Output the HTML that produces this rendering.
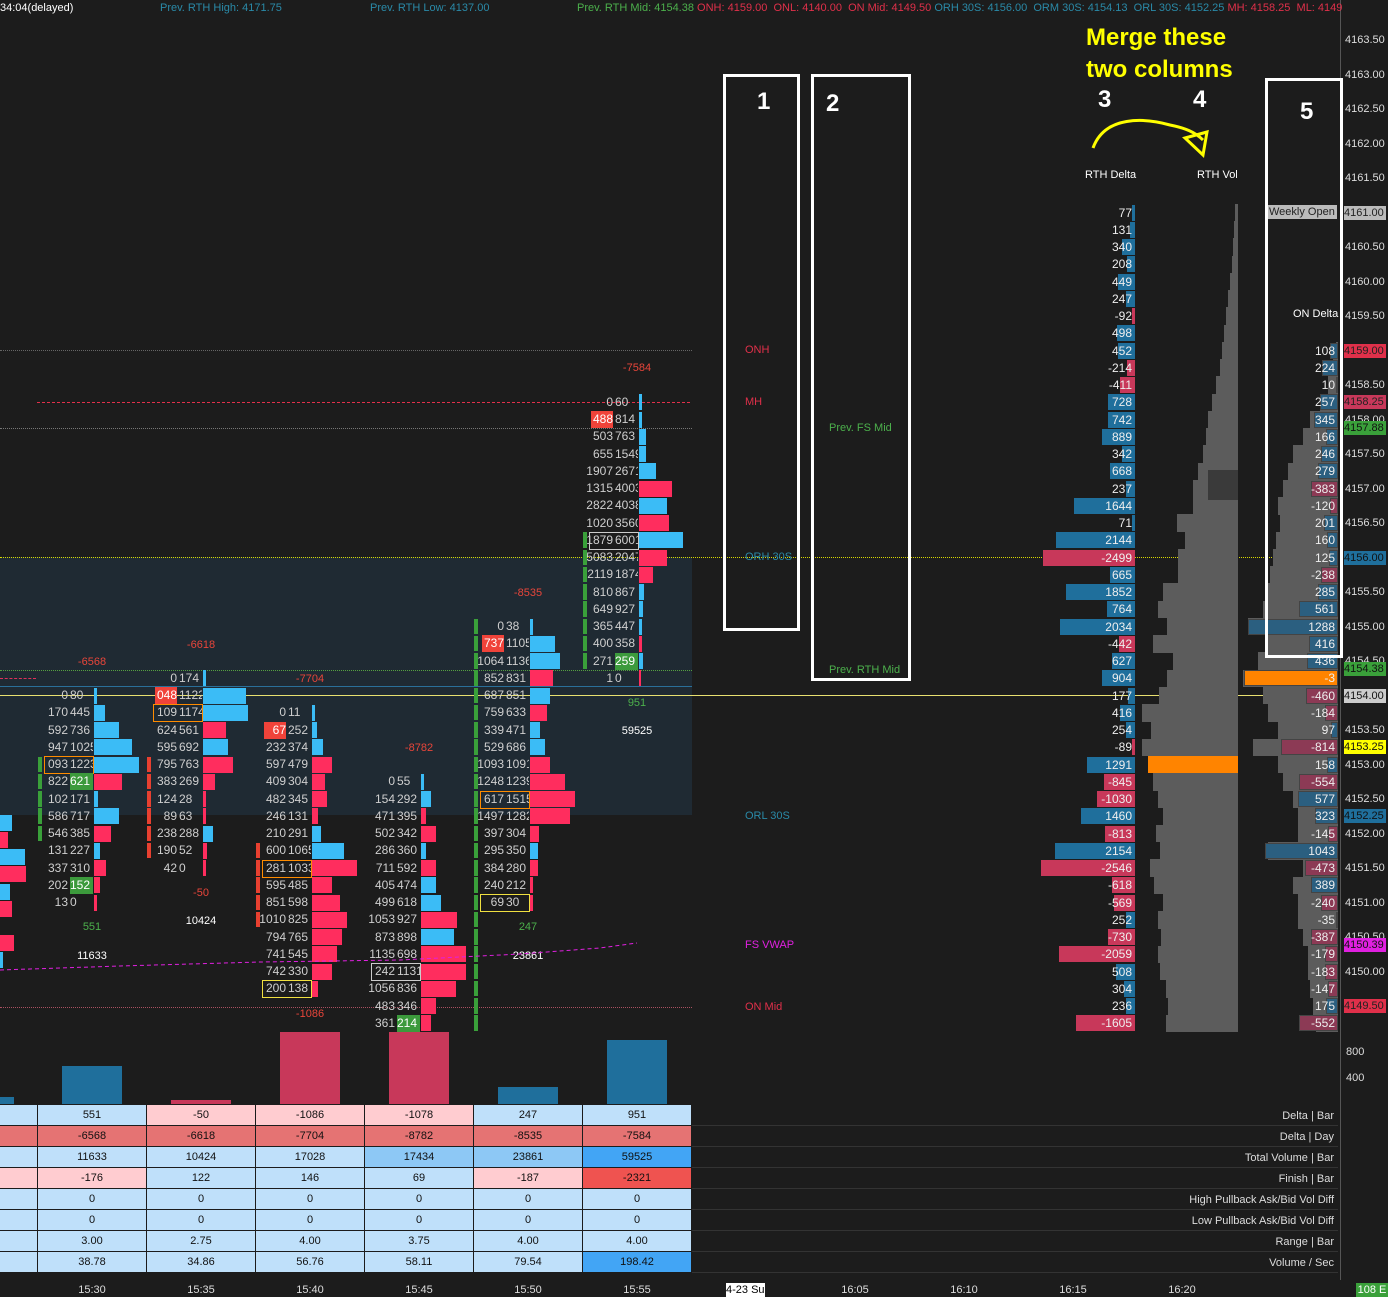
<!DOCTYPE html>
<html><head><meta charset="utf-8"><style>
body{margin:0;width:1388px;height:1296px;background:#1c1c1c;overflow:hidden;font-family:"Liberation Sans",sans-serif;position:relative}
div,span{position:absolute;white-space:nowrap}
.t{font-size:12px;color:#cfcfcf;line-height:17px;height:17px}
.s{font-size:11px;line-height:14px}
</style></head><body>
<div style="left:0;top:557px;width:692px;height:258px;background:#1f2a33"></div>
<div id="root"></div>
<script>
var H='';
function Y(p){return 40+(4163.5-p)*69;}
function add(s){H+=s;}
function box(x,y,w,h,st){add('<div style="left:'+x+'px;top:'+y+'px;width:'+w+'px;height:'+h+'px;'+st+'"></div>');}
function txt(x,y,s,st,cls){add('<div class="'+(cls||'t')+'" style="left:'+x+'px;top:'+y+'px;'+st+'">'+s+'</div>');}
box(0,350,692,0,'border-top:1px dotted #666');
box(37,402,653,0,'border-top:1px dashed #e0304a');
box(0,428,692,0,'border-top:1px dotted #777');
box(0,557,1338,0,'border-top:1px dotted #d8d800');
box(0,670,692,0,'border-top:1px dotted #55a040');
box(0,686,692,0,'border-top:1px solid #2a6f99');
box(0,695,1338,0,'border-top:1px solid #e8e070');
box(0,1007,692,0,'border-top:1px dotted #aa5060');
box(0,678,36,0,'border-top:1px dashed #e0305a');
var B='#3bbcf6',R='#ff2d5e';
var cols=[
[92,4154.00,[[0,80,3,B],[170,445,11,B],[592,736,25,B],[947,1025,38,B],['093',1223,45,B,'o'],[822,621,28,R,'g'],[102,171,4,B],[586,717,25,B],[546,385,17,R],[131,227,6,B],[337,310,12,R],[202,152,6,R,'g'],[13,0,3,R]]],
[201,4154.25,[[0,174,3,B],['048',1122,43,B,'r'],[109,1174,45,B,'o'],[624,561,23,R],[595,692,25,B],[795,763,30,R],[383,269,12,R],[124,28,3,R],[89,63,3,R],[238,288,10,B],[190,52,4,R],[42,0,3,R]]],
[310,4153.75,[[0,11,3,B],[67,252,5,B,'r'],[232,374,11,B],[597,479,20,R],[409,304,13,R],[482,345,15,R],[246,131,6,R],[210,291,9,B],[600,1065,32,B],[281,1033,45,R,'o'],[595,485,20,R],[851,598,28,R],[1010,825,35,R],[794,765,30,R],[741,545,25,R],[742,330,20,R],[200,138,6,R,'y']]],
[419,4152.75,[[0,55,3,B],[154,292,10,B],[471,395,5,R],[502,342,15,R],[286,360,5,B],[711,592,15,R],[405,474,15,B],[499,618,20,B],[1053,927,36,R],[873,898,33,B],[1135,698,45,R],[242,1131,45,R,'w'],[1056,836,35,R],[483,346,15,R],[361,214,10,R,'g']]],
[528,4155.00,[[0,38,3,B],[737,1105,25,B,'r'],[1064,1136,30,B],[852,831,23,R],[687,851,20,B],[759,633,17,R],[339,471,10,B],[529,686,15,B],[1093,1091,20,R],[1248,1239,35,R],[617,1515,45,R,'o'],[1497,1282,40,R],[397,304,9,R],[295,350,8,B],[384,280,8,R],[240,212,3,R],[69,30,3,R,'y']]],
[637,4158.25,[[0,60,3,B],[488,814,3,B,'r'],[503,763,7,B],[655,1549,7,B],[1907,2671,17,B],[1315,4003,33,R],[2822,4038,28,B],[1020,3560,30,R],[1879,6001,44,B,'w'],[5083,2047,28,R],[2119,1874,14,R],[810,867,5,B],[649,927,4,B],[365,447,3,B],[400,358,3,R],[271,259,4,B,'g'],[1,0,2,R]]]
];
cols.forEach(function(c){var x=c[0];c[2].forEach(function(r,i){var p=c[1]-i*0.25;var y=Y(p)-8.5;
 var as='';
 if(r[4]=='r')box(x-46,y,22,17,'background:#f0433a');
 if(r[4]=='g')as='background:#3c9a3c;color:#fff;';
 add('<div class="t" style="left:'+(x-60)+'px;top:'+y+'px;width:36px;text-align:right;'+(r[4]=='r'?'color:#fff;':'')+'">'+r[0]+'</div>');
 add('<div class="t" style="left:'+(x-22)+'px;top:'+y+'px;width:23px;overflow:hidden;'+as+'">'+r[1]+'</div>');
 var bc={o:'#ff8c00',y:'#f0e040',w:'#ccc'}[r[4]];
 if(bc)box(x-48,y,48,16,'border:1px solid '+bc);
 box(x+2,y+0.5,r[2],16,'background:'+r[3]);
});});
// side bars segmented
function seg(x,p0,n,c){for(var i=0;i<n;i++)box(x,Y(p0-i*0.25)-8,4,15.5,'background:'+c);}
seg(38,4153.0,5,'#3aa03a');seg(147,4153.0,6,'#e84030');seg(256,4151.75,5,'#e84030');
seg(474,4155.0,24,'#3aa03a');seg(583,4156.25,8,'#3aa03a');
[[815,12,B],[832,8,R],[849,25,B],[866,26,R],[884,10,B],[901,12,R],[935,14,R],[952,3,B]].forEach(function(b){box(0,b[0],b[1],16,'background:'+b[2]);});
[[92,662,'-6568','#e8453a'],[201,645,'-6618','#e8453a'],[310,679,'-7704','#e8453a'],[419,748,'-8782','#e8453a'],[528,593,'-8535','#e8453a'],[637,368,'-7584','#e8453a'],
 [92,927,'551','#4cb04c'],[201,893,'-50','#e8453a'],[310,1014,'-1086','#e8453a'],[528,927,'247','#4cb04c'],[637,703,'951','#4cb04c'],
 [92,956,'11633','#fff'],[201,921,'10424','#fff'],[528,956,'23861','#fff'],[637,731,'59525','#fff']].forEach(function(l){
 add('<div class="s" style="left:'+(l[0]-30)+'px;top:'+(l[1]-7)+'px;width:60px;text-align:center;color:'+l[3]+'">'+l[2]+'</div>');});
add('<svg style="position:absolute;left:0;top:0" width="692" height="1100"><path d="M0 970 L120 966 L260 962 L400 960 L520 954 L600 948 L637 943" stroke="#e020e0" stroke-dasharray="4,3" fill="none"/></svg>');
[[62,1066,'#1f6f9c'],[171,1100,'#c8385a'],[280,1032,'#c8385a'],[389,1032,'#c8385a'],[498,1087,'#1f6f9c'],[607,1040,'#1f6f9c']].forEach(function(v){box(v[0],v[1],60,1104-v[1],'background:'+v[2]);});
box(0,1097,14,7,'background:#1f6f9c');
var rows=[['551','-50','-1086','-1078','247','951'],['-6568','-6618','-7704','-8782','-8535','-7584'],['11633','10424','17028','17434','23861','59525'],['-176','122','146','69','-187','-2321'],['0','0','0','0','0','0'],['0','0','0','0','0','0'],['3.00','2.75','4.00','3.75','4.00','4.00'],['38.78','34.86','56.76','58.11','79.54','198.42']];
var LB='#bfe0fa',PK='#ffccd0',RD='#e57373';
var bg=[[LB,LB,PK,PK,PK,LB,LB],[RD,RD,RD,RD,RD,RD,RD],[LB,LB,LB,LB,'#8dc8f5','#8dc8f5','#42a5f5'],[PK,PK,LB,LB,LB,PK,'#ef5350'],[LB,LB,LB,LB,LB,LB,LB],[LB,LB,LB,LB,LB,LB,LB],[LB,LB,LB,LB,LB,LB,LB],[LB,LB,LB,LB,LB,LB,'#42a5f5']];
var labels=['Delta | Bar','Delta | Day','Total Volume | Bar','Finish | Bar','High Pullback Ask/Bid Vol Diff','Low Pullback Ask/Bid Vol Diff','Range | Bar','Volume / Sec'];
for(var i=0;i<8;i++){var y=1105+i*21;
 box(0,y,37,20,'background:'+bg[i][0]);
 for(var j=0;j<6;j++){add('<div class="s" style="left:'+(38+j*109)+'px;width:108px;height:20px;line-height:20px;top:'+y+'px;background:'+bg[i][j+1]+';text-align:center;color:#111">'+rows[i][j]+'</div>');}
 box(692,y+20,646,1,'background:#333');
 add('<div class="s" style="left:900px;top:'+(y+4)+'px;width:434px;text-align:right;color:#ddd">'+labels[i]+'</div>');}
[['15:30',92],['15:35',201],['15:40',310],['15:45',419],['15:50',528],['15:55',637],['16:05',855],['16:10',964],['16:15',1073],['16:20',1182]].forEach(function(t){add('<div class="s" style="left:'+(t[1]-25)+'px;top:1283px;width:50px;text-align:center;color:#ddd">'+t[0]+'</div>');});
add('<div class="s" style="left:726px;top:1283px;width:39px;background:#fff;color:#000">4-23 Su</div>');
add('<div class="s" style="left:1356px;top:1283px;width:32px;background:#3aa03a;color:#fff;text-align:center">108 E</div>');
var rv=[3,4,5,6,8,10,12,14,16,18,22,26,30,32,35,40,45,45,61,53,60,60,75,80,71,85,65,71,79,96,87,96,90,85,80,75,82,78,88,84,75,80,77,80,78,72,70,72];
rv.forEach(function(w,i){var y=Y(4161-i*0.25)-8.6;box(1238-w,y,w,17.4,'background:'+(i==32?'#ff8400':'#5c5c5c'));});
box(1208,470,30,30,'background:#3a3a3a');
var rd=[77,131,340,208,449,247,-92,498,452,-214,-411,728,742,889,342,668,237,1644,71,2144,-2499,665,1852,764,2034,-442,627,904,177,416,254,-89,1291,-845,-1030,1460,-813,2154,-2546,-618,-569,252,-730,-2059,508,304,236,-1605];
rd.forEach(function(v,i){var y=Y(4161-i*0.25)-8;var w=Math.max(2,Math.abs(v)*0.037);
 box(1135-w,y,w,16,'background:'+(v<0?'#c8385a':'#1f6f9c'));
 add('<div class="t" style="left:1070px;top:'+y+'px;width:62px;text-align:right;color:#eee">'+v+'</div>');});
var ov=[2,5,10,18,28,35,45,50,55,60,58,62,65,68,70,75,90,70,80,95,75,70,60,85,60,55,45,40,40,70,35,45,40,40,35,30,30,28,25,22];
ov.forEach(function(w,i){var y=Y(4159-i*0.25)-8.6;box(1338-w,y,w,17.4,'background:#5c5c5c');});
var od=[108,224,10,257,345,166,246,279,-383,-120,201,160,125,-238,285,561,1288,416,436,-3,-460,-184,97,-814,158,-554,577,323,-145,1043,-473,389,-240,-35,-387,-179,-183,-147,175,-552];
od.forEach(function(v,i){var y=Y(4159-i*0.25)-8;var w=Math.max(2,Math.abs(v)*0.07);
 var c=v<0?'#8c3a55':'#2b5f80';if(i==19){c='#ff8400';w=94;}
 box(1338-w,y,w,16,'background:'+c+';box-sizing:border-box;border:1px solid #444');
 add('<div class="t" style="left:1280px;top:'+y+'px;width:55px;text-align:right;color:#eee">'+v+'</div>');});
box(1340,0,1,1280,'background:#555');
for(var p=4163.5;p>=4149.99;p-=0.5){add('<div class="s" style="left:1345px;top:'+(Y(p)-7)+'px;color:#ddd">'+p.toFixed(2)+'</div>');}
[[4161,'#bbb','#222'],[4159,'#e0304a','#222'],[4158.25,'#c8385a','#222'],[4157.88,'#3aa03a','#111'],[4156,'#1f6f9c','#111'],[4154.38,'#3aa03a','#111'],[4154,'#ccc','#111'],[4153.25,'#ffff00','#111'],[4152.25,'#1f6f9c','#111'],[4150.39,'#e020e0','#111'],[4149.5,'#e0304a','#222']].forEach(function(a){
 add('<div class="s" style="left:1344px;top:'+(Y(a[0])-7)+'px;width:42px;background:'+a[1]+';color:'+a[2]+'">'+a[0].toFixed(2)+'</div>');});
txt(1346,1045,'800','color:#ddd','s');txt(1346,1071,'400','color:#ddd','s');
add('<div class="s" style="left:0;top:1px;color:#fff">34:04(delayed)</div>');
add('<div class="s" style="left:160px;top:1px;color:#2a8aa8">Prev. RTH High: 4171.75</div>');
add('<div class="s" style="left:370px;top:1px;color:#2a8aa8">Prev. RTH Low: 4137.00</div>');
add('<div class="s" style="left:577px;top:1px;color:#4cb04c">Prev. RTH Mid: 4154.38 <span style="position:static;color:#e0304a">ONH: 4159.00 &nbsp;ONL: 4140.00 &nbsp;ON Mid: 4149.50</span> <span style="position:static;color:#2a8aa8">ORH 30S: 4156.00 &nbsp;ORM 30S: 4154.13 &nbsp;ORL 30S: 4152.25</span> <span style="position:static;color:#e0304a">MH: 4158.25 &nbsp;ML: 4149</span></div>');
[['ONH',745,350,'#e0304a'],['MH',745,402,'#e0304a'],['Prev. FS Mid',829,428,'#4cb04c'],['ORH 30S',745,557,'#2a8aa8'],['Prev. RTH Mid',829,670,'#4cb04c'],['ORL 30S',745,816,'#2a8aa8'],['FS VWAP',745,945,'#e020e0'],['ON Mid',745,1007,'#e0304a'],['RTH Delta',1085,175,'#fff'],['RTH Vol',1197,175,'#fff'],['ON Delta',1293,314,'#fff']].forEach(function(l){
 add('<div class="s" style="left:'+l[1]+'px;top:'+(l[2]-7)+'px;color:'+l[3]+'">'+l[0]+'</div>');});
add('<div class="s" style="left:1267px;top:205px;background:#bbb;color:#222;padding:0 2px">Weekly Open</div>');
box(723,74,71,551,'border:3px solid #fff');
box(811,74,94,601,'border:3px solid #fff');
box(1265,78,72,574,'border:3px solid #fff');
[['1',757,88],['2',826,90],['3',1098,86],['4',1193,86],['5',1300,98]].forEach(function(n){add('<div style="left:'+n[1]+'px;top:'+n[2]+'px;font-size:24px;font-weight:bold;color:#fff">'+n[0]+'</div>');});
add('<div style="left:1086px;top:22px;font-size:24px;line-height:32px;color:#ffff00;font-weight:bold">Merge these<br>two columns</div>');
add('<svg style="position:absolute;left:1085px;top:110px" width="140" height="55"><path d="M8 38 C20 5 60 8 85 15 C100 18 110 22 118 30 M100 28 L122 22 L118 45 Z" stroke="#ffff00" stroke-width="3" fill="none"/></svg>');
document.getElementById('root').innerHTML=H;
</script>
</body></html>
